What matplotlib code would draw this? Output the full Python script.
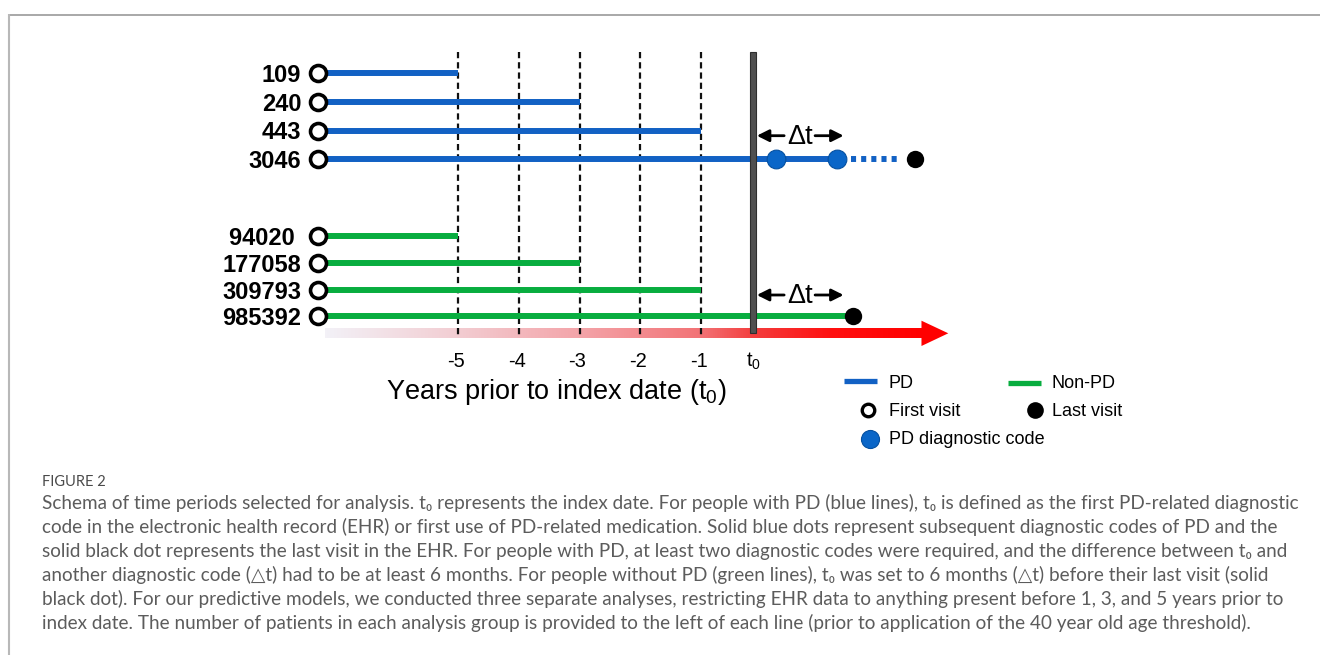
import numpy as np
import matplotlib
matplotlib.use("Agg")
import matplotlib.pyplot as plt
from matplotlib.colors import LinearSegmentedColormap
from matplotlib.patches import Rectangle, Polygon

# ------------------------------------------------------------------ data
pd_labels = ["109", "240", "443", "3046"]
pd_first_visit = [-7.31, -7.31, -7.31, -7.31]        # years relative to index date
pd_window_end = [-5, -3, -1, 1.24]                   # end of solid line (years)
pd_diag_codes = [0.24, 1.24]                         # PD codes after t0 (last PD row)
pd_dotted = [1.47, 2.25]                             # dotted continuation
pd_last_visit = 2.53

nonpd_labels = ["94020 ", "177058", "309793", "985392"]
nonpd_first_visit = [-7.31, -7.31, -7.31, -7.31]
nonpd_window_end = [-5, -3, -1, 1.50]
nonpd_last_visit = 1.50

tick_years = [-5, -4, -3, -2, -1]
tick_labels = ["-5", "-4", "-3", "-2", "-1"]
t0_year = -0.15
delta_t_span = [-0.08, 1.35]                         # extent of the Δt arrows (years)
timeline_span = [-7.2, 2.654, 3.076]                 # gradient start, head base, tip

caption_lines = [
    "Schema of time periods selected for analysis. t\u2080 represents the index date. For people with PD (blue lines), t\u2080 is defined as the first PD-related diagnostic",
    "code in the electronic health record (EHR) or first use of PD-related medication. Solid blue dots represent subsequent diagnostic codes of PD and the",
    "solid black dot represents the last visit in the EHR. For people with PD, at least two diagnostic codes were required, and the difference between t\u2080 and",
    "another diagnostic code (\u25b3t) had to be at least 6 months. For people without PD (green lines), t\u2080 was set to 6 months (\u25b3t) before their last visit (solid",
    "black dot). For our predictive models, we conducted three separate analyses, restricting EHR data to anything present before 1, 3, and 5 years prior to",
    "index date. The number of patients in each analysis group is provided to the left of each line (prior to application of the 40 year old age threshold).",
]

# ------------------------------------------------------------------ layout / style
W, H = 1320, 655
PX_PER_YEAR = 60.66
ZERO_PX = 761.7
pd_rows_y = [73.3, 102.0, 130.7, 159.0]
nonpd_rows_y = [236.0, 263.0, 290.3, 316.0]

PD_BLUE = "#1261c4"
DOT_BLUE = "#0a66c8"
GREEN = "#08ad3f"
LW = 4.3

plt.rcParams["font.family"] = ["Liberation Sans", "DejaVu Sans"]
plt.rcParams["mathtext.fontset"] = "custom"
plt.rcParams["mathtext.rm"] = "Liberation Sans"
plt.rcParams["mathtext.it"] = "Liberation Sans:italic"
plt.rcParams["mathtext.bf"] = "Liberation Sans:bold"

fig = plt.figure(figsize=(W / 100, H / 100), dpi=100)
fig.patch.set_facecolor("white")

lay = fig.add_axes([0, 0, 1, 1], label="layout")
lay.set_xlim(0, W)
lay.set_ylim(H, 0)
lay.axis("off")

ax = fig.add_axes([0, 0, 1, 1], label="chart")
ax.patch.set_alpha(0)
X0 = -ZERO_PX / PX_PER_YEAR
X1 = (W - ZERO_PX) / PX_PER_YEAR
ax.axis("off")

# dashed year lines
ax.vlines(tick_years, 52, 338, colors="#111111", linestyles=(0, (2.8, 1.8)),
          lw=1.6, zorder=2)

# gradient timeline arrow
cmap = LinearSegmentedColormap.from_list(
    "tl", [(0.0, "#f3f1f7"), (0.22, "#f2cdd2"), (0.43, "#f4a3a8"),
           (0.63, "#f27275"), (0.72, "#f43c3c"), (0.85, "#ff1010"), (1.0, "#ff0000")])
grad = np.linspace(0, 1, 512).reshape(1, -1)
ax.imshow(grad, cmap=cmap, extent=(timeline_span[0], timeline_span[1], 338.0, 328.6),
          aspect="auto", zorder=1, interpolation="bilinear")
ax.add_patch(Polygon([(timeline_span[1] - 0.02, 320.7), (timeline_span[2], 333.3),
                      (timeline_span[1] - 0.02, 346.0)], closed=True,
                     facecolor="#ff0000", edgecolor="none", zorder=1))

# t0 bar
bar_w = 6.0 / PX_PER_YEAR
ax.add_patch(Rectangle((t0_year - bar_w / 2, 52), bar_w, 281, facecolor="#505050",
                       edgecolor="#2e2e2e", lw=0.8, zorder=4))

# PD rows
for lab, x0, x1, y in zip(pd_labels, pd_first_visit, pd_window_end, pd_rows_y):
    ax.plot([x0, x1], [y, y], color=PD_BLUE, lw=LW, solid_capstyle="butt", zorder=3)
    ax.plot(x0, y, "o", ms=11.5, mfc="white", mec="black", mew=2.6, zorder=5)
    ax.text(x0 - 17 / PX_PER_YEAR, y + 8.6, lab, ha="right", va="baseline",
            fontsize=17, fontweight="bold")
y_last = pd_rows_y[-1]
ax.plot(pd_dotted, [y_last, y_last], color=PD_BLUE, lw=LW, linestyle=(0, (0.85, 0.85)),
        dash_capstyle="butt", zorder=3)
ax.plot(pd_diag_codes, [y_last] * len(pd_diag_codes), "o", ms=13.5, mfc=DOT_BLUE,
        mec="#0550a0", mew=0.8, zorder=6)
ax.plot(pd_last_visit, y_last, "o", ms=12.5, mfc="black", mec="black", mew=0, zorder=6)

# non-PD rows
for lab, x0, x1, y in zip(nonpd_labels, nonpd_first_visit, nonpd_window_end, nonpd_rows_y):
    ax.plot([x0, x1], [y, y], color=GREEN, lw=LW, solid_capstyle="butt", zorder=3)
    ax.plot(x0, y, "o", ms=11.5, mfc="white", mec="black", mew=2.6, zorder=5)
    ax.text(x0 - 17 / PX_PER_YEAR, y + 8.6, lab, ha="right", va="baseline",
            fontsize=17, fontweight="bold")
ax.plot(nonpd_last_visit, nonpd_rows_y[-1], "o", ms=12.5, mfc="black", mec="black",
        mew=0, zorder=6)

# delta-t annotations
for ya in (135.7, 295.0):
    mid = 0.63
    ax.annotate("", xy=(delta_t_span[0], ya), xytext=(mid - 0.26, ya),
                arrowprops=dict(arrowstyle="-|>", color="black", lw=2.0,
                                mutation_scale=18, shrinkA=0, shrinkB=0), zorder=7)
    ax.annotate("", xy=(delta_t_span[1], ya), xytext=(mid + 0.25, ya),
                arrowprops=dict(arrowstyle="-|>", color="black", lw=2.0,
                                mutation_scale=18, shrinkA=0, shrinkB=0), zorder=7)
    ax.text(mid, ya + 8.4, "\u0394t", ha="center", va="baseline", fontsize=19.5)

# ticks
for yr, lab in zip(tick_years, tick_labels):
    ax.text(yr - 0.04, 367, lab, ha="center", va="baseline", fontsize=14.5)
ax.text(t0_year + 0.02, 367, r"$\mathregular{t_0}$", ha="center", va="baseline",
        fontsize=14.5)

ax.set_xlim(X0, X1)
ax.set_ylim(H, 0)

lay.text(556, 399, r"Years prior to index date ($\mathregular{t_0}$)", ha="center",
         va="baseline", fontsize=19.5)

# legend
lay.plot([844, 877], [380.5, 380.5], color=PD_BLUE, lw=3.8, solid_capstyle="butt")
lay.text(889, 388.3, "PD", ha="left", va="baseline", fontsize=13)
lay.plot([1008, 1041], [382.5, 382.5], color=GREEN, lw=3.8, solid_capstyle="butt")
lay.text(1051.7, 388.3, "Non-PD", ha="left", va="baseline", fontsize=13)
lay.plot(868, 409.5, "o", ms=9, mfc="white", mec="black", mew=2.4)
lay.text(889, 416, "First visit", ha="left", va="baseline", fontsize=13)
lay.plot(1034.7, 409.5, "o", ms=12, mfc="black", mec="black", mew=0)
lay.text(1051.7, 416, "Last visit", ha="left", va="baseline", fontsize=13)
lay.plot(870, 438.5, "o", ms=13, mfc=DOT_BLUE, mec="#0550a0", mew=0.8)
lay.text(889, 443.8, "PD diagnostic code", ha="left", va="baseline", fontsize=13)

# frame
lay.plot([8, W], [14.5, 14.5], color="#9a9a9a", lw=1.2, solid_capstyle="butt")
lay.plot([8.5, 8.5], [14, H], color="#b8b8b8", lw=1.5, solid_capstyle="butt")

# caption
cap_fam = ["Lato", "DejaVu Sans"]
lay.text(42, 486, "FIGURE 2", ha="left", va="baseline", fontsize=10.5,
         color="#4a4a4a", family=cap_fam)
renderer = fig.canvas.get_renderer()
probe = lay.text(42, 509, caption_lines[0], fontsize=12, family=cap_fam)
wpx = probe.get_window_extent(renderer).width
probe.remove()
cap_fs = 12 * (1289 - 42) / wpx
for i, line in enumerate(caption_lines):
    lay.text(42, 509 + 24 * i, line, ha="left", va="baseline", fontsize=cap_fs,
             color="#5c5c5c", family=cap_fam)

fig.savefig("out.png", dpi=100, facecolor="white")
